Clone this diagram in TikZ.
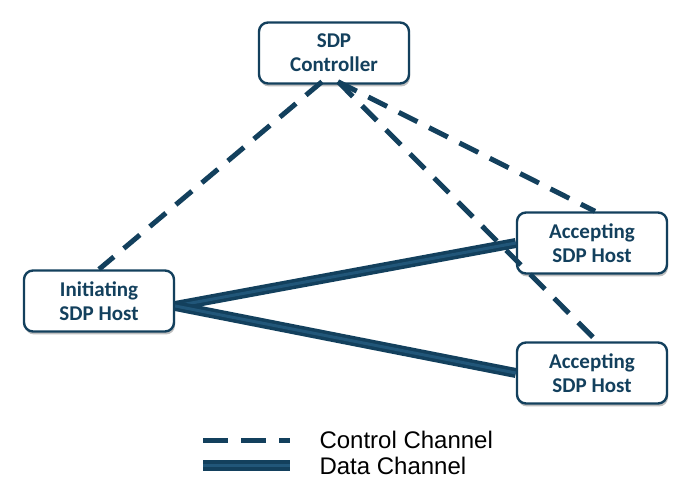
\documentclass[tikz,border=0pt]{standalone}
\usepackage{fontspec}
\setmainfont{Liberation Sans}
\newfontfamily\boxfont{Carlito}
\usetikzlibrary{shapes,arrows,positioning,calc,shadows}

\definecolor{sdpnavy}{HTML}{13405D}
\definecolor{sdplight}{HTML}{215679}

\tikzset{
    sdpbox/.style={draw=sdpnavy, line width=2.4pt, rounded corners=9pt, fill=white,
        minimum width=150pt, minimum height=61pt, align=center, text=sdpnavy,
        font=\boxfont\bfseries\fontsize{21}{24}\selectfont,
        drop shadow={shadow xshift=1pt, shadow yshift=-3pt, opacity=0.25, fill=black}},
    ctrlchannel/.style={draw=sdpnavy, line width=5pt, dash pattern=on 21pt off 13pt},
    datachannel/.style={draw=sdpnavy, line width=3.5pt, double=sdplight, double distance=3pt},
    legendtext/.style={anchor=west, font=\fontsize{24}{28}\selectfont, text=black}
}

\begin{document}
\begin{tikzpicture}[x=1pt, y=-1pt]
        \useasboundingbox (0,0) rectangle (697,489);

        \node[sdpbox] (ctrl) at (334,53) {SDP\\Controller};
        \node[sdpbox] (init) at (99,301) {Initiating\\SDP Host};
        \node[sdpbox] (accA) at (592,243) {Accepting\\SDP Host};
        \node[sdpbox] (accB) at (592,373) {Accepting\\SDP Host};

        % control channels
        \draw[ctrlchannel] ([xshift=-12pt,yshift=3pt]ctrl.south) -- (init.north);   % controller to initiating host
        \draw[ctrlchannel] ([xshift=4pt,yshift=3pt]ctrl.south) -- ([xshift=3pt]accA.north); % controller to first accepting host
        \draw[ctrlchannel] ([xshift=4pt,yshift=3pt]ctrl.south) -- ([xshift=5pt]accB.north); % controller to second accepting host

        % data channels
        \coordinate (fork) at ([yshift=-5pt]init.east);
        \draw[datachannel] (fork) -- (accA.west);   % initiating host to first accepting host
        \draw[datachannel] (fork) -- (accB.west);   % initiating host to second accepting host

        % legend
        \coordinate (ctrlA) at (203,440);
        \coordinate (ctrlB) at (290,440);
        \coordinate (dataA) at (203,465);
        \coordinate (dataB) at (290,465);
        \draw[ctrlchannel, dash pattern=on 25pt off 13pt] (ctrlA) -- (ctrlB);
        \draw[datachannel, line width=4pt] (dataA) -- (dataB);
        \node[legendtext] (ctrllabel) at (316,440) {Control Channel};
        \node[legendtext] (datalabel) at (316,466) {Data Channel};
    \end{tikzpicture}
\end{document}
